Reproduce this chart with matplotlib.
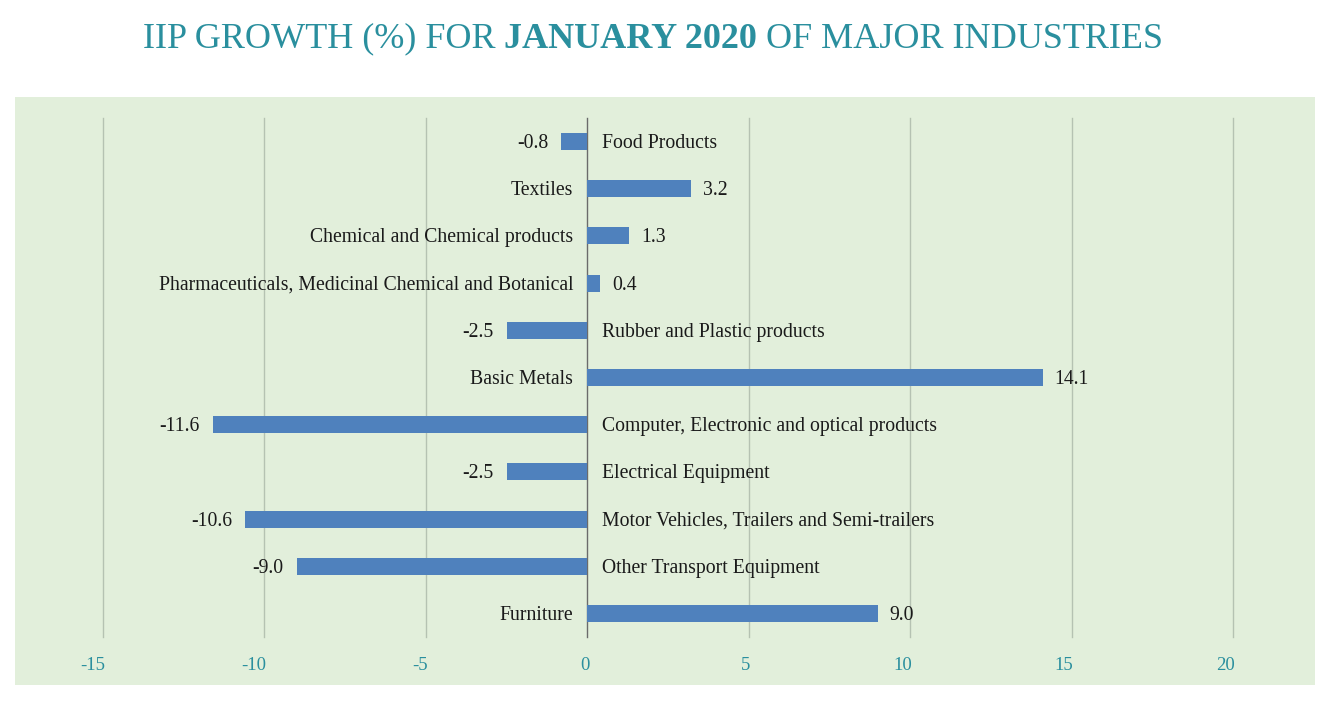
"""
IIP growth (%) for January 2020 of major industries - horizontal bar chart
"""

import matplotlib
matplotlib.use('Agg')
import matplotlib.pyplot as plt
import matplotlib.transforms as mtransforms
from matplotlib.patches import Rectangle

# Data
industries = [
    'Food Products',
    'Textiles',
    'Chemical and Chemical products',
    'Pharmaceuticals, Medicinal Chemical and Botanical',
    'Rubber and Plastic products',
    'Basic Metals',
    'Computer, Electronic and optical products',
    'Electrical Equipment',
    'Motor Vehicles, Trailers and Semi-trailers',
    'Other Transport Equipment',
    'Furniture',
]
growth = [-0.8, 3.2, 1.3, 0.4, -2.5, 14.1, -11.6, -2.5, -10.6, -9.0, 9.0]
x_ticks = [-15, -10, -5, 0, 5, 10, 15, 20]

TEAL = '#2a8f9e'
BAR = '#4f81bd'
PANEL = '#e2efdb'
FONT = ['Liberation Serif', 'DejaVu Serif']

plt.rcParams.update({
    'font.family': FONT,
    'font.size': 14.2,
})

W, H = 1329, 703
fig = plt.figure(figsize=(W / 100, H / 100), dpi=100)
fig.patch.set_facecolor('white')

# Green panel behind the plot
fig.patches.append(Rectangle((15 / W, 1 - 685 / H), 1300 / W, 588 / H,
                             transform=fig.transFigure, facecolor=PANEL,
                             edgecolor='none', zorder=-5))

ax = fig.add_axes([103 / W, 1 - 637 / H, 1130 / W, 519 / H])
ax.set_facecolor('none')

ypos = list(range(len(industries)))
ax.barh(ypos, growth, height=0.36, color=BAR, zorder=3)
ax.set_ylim(len(industries) - 0.5, -0.5)
ax.set_xlim(-15, 20)

# Grid lines
for t in x_ticks:
    if t == 0:
        ax.axvline(0, color='#6b6b6b', linewidth=1.0, zorder=2, clip_on=False)
    else:
        ax.axvline(t, color='#b5c2b2', linewidth=1.0, zorder=1, clip_on=False)

for s in ax.spines.values():
    s.set_visible(False)
ax.set_yticks([])
ax.set_xticks([])

# Tick labels (roughly right-aligned to the gridline like in the original)
tick_off = mtransforms.offset_copy(ax.get_xaxis_transform(), fig=fig, x=2, y=0, units='dots')
for t in x_ticks:
    ax.text(t, -0.055, str(t), transform=tick_off, ha='right', va='center',
            color=TEAL, fontsize=13.5)

# Category and value labels
lab_l = mtransforms.offset_copy(ax.transData, fig=fig, x=-14, y=-2, units='dots')
lab_r = mtransforms.offset_copy(ax.transData, fig=fig, x=15, y=-2, units='dots')
val_l = mtransforms.offset_copy(ax.transData, fig=fig, x=-13, y=-2, units='dots')
val_r = mtransforms.offset_copy(ax.transData, fig=fig, x=12, y=-2, units='dots')
for y, name, v in zip(ypos, industries, growth):
    if v >= 0:
        ax.text(0, y, name, transform=lab_l, ha='right', va='center', color='#1a1a1a')
        ax.text(v, y, f'{v:.1f}', transform=val_r, ha='left', va='center', color='#1a1a1a')
    else:
        ax.text(0, y, name, transform=lab_r, ha='left', va='center', color='#1a1a1a')
        ax.text(v, y, f'{v:.1f}', transform=val_l, ha='right', va='center', color='#1a1a1a')

# Title with a bold middle part
parts = [('IIP GROWTH (%) FOR ', 'normal'), ('JANUARY 2020', 'bold'),
         (' OF MAJOR INDUSTRIES', 'normal')]
renderer = fig.canvas.get_renderer()
title_y = 1 - 39 / H
texts = []
for s, w in parts:
    texts.append(fig.text(0, title_y, s, fontsize=26, color=TEAL, fontweight=w,
                          va='center', ha='left'))
widths = [t.get_window_extent(renderer).width for t in texts]
x = 653 - sum(widths) / 2
for t, wd in zip(texts, widths):
    t.set_x(x / W)
    x += wd

fig.savefig('out.png', dpi=100, facecolor='white')
